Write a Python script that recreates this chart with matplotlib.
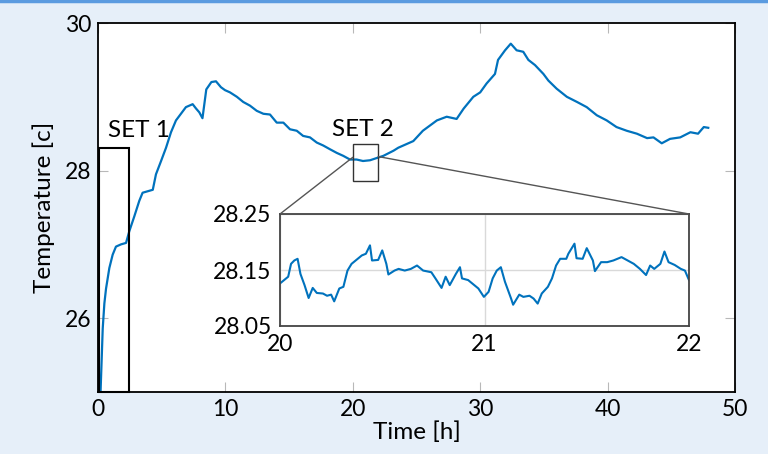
import numpy as np
import matplotlib
matplotlib.use("Agg")
from matplotlib import pyplot as plt
from matplotlib.patches import Rectangle, ConnectionPatch
from matplotlib.lines import Line2D

# main temperature trace
time_h = [0.1, 0.2, 0.28, 0.37, 0.5, 0.63, 0.89, 1.15, 1.41, 1.8, 2.2, 2.46, 2.85,
          3.24, 3.5, 3.9, 4.3, 4.55, 4.95, 5.34, 5.73, 6.12, 6.51, 6.9, 7.43, 7.7,
          7.95, 8.2, 8.5, 8.9, 9.26, 9.65, 9.97, 10.36, 10.9, 11.4, 11.93, 12.46,
          12.98, 13.5, 14.03, 14.55, 15.07, 15.6, 16.1, 16.64, 17.17, 17.68, 18.2,
          18.74, 19.25, 19.78, 20.3, 20.8, 21.35, 21.87, 22.4, 23.2, 23.57, 24.75,
          25.5, 26.6, 27.37, 28.15, 28.7, 29.46, 30.0, 30.5, 31.16, 31.4, 31.95,
          32.4, 32.86, 33.38, 33.78, 34.3, 34.96, 35.35, 36.0, 36.8, 37.6, 38.36,
          39.15, 39.93, 40.7, 41.5, 42.3, 43.1, 43.6, 44.25, 44.9, 45.7, 46.5,
          47.1, 47.55, 47.9]
temp_c = [24.97, 25.0, 25.4, 25.86, 26.2, 26.4, 26.68, 26.86, 26.97, 27.0, 27.02,
          27.18, 27.38, 27.59, 27.7, 27.72, 27.74, 27.95, 28.13, 28.31, 28.52,
          28.68, 28.77, 28.86, 28.9, 28.84, 28.79, 28.71, 29.1, 29.2, 29.21, 29.13,
          29.09, 29.06, 29.0, 28.93, 28.88, 28.81, 28.77, 28.76, 28.65, 28.65,
          28.56, 28.54, 28.47, 28.45, 28.38, 28.34, 28.29, 28.24, 28.2, 28.15,
          28.15, 28.13, 28.14, 28.17, 28.2, 28.27, 28.31, 28.4, 28.54, 28.68,
          28.73, 28.7, 28.84, 29.0, 29.06, 29.18, 29.31, 29.5, 29.63, 29.72, 29.63,
          29.61, 29.5, 29.43, 29.31, 29.22, 29.11, 29.0, 28.93, 28.86, 28.75,
          28.68, 28.59, 28.54, 28.5, 28.44, 28.45, 28.37, 28.43, 28.45, 28.52,
          28.5, 28.59, 28.58]

# zoomed window 20-22 h
zoom_t = [20.0, 20.02, 20.04, 20.054, 20.07, 20.086, 20.1, 20.12, 20.14, 20.16,
          20.18, 20.21, 20.23, 20.25, 20.265, 20.29, 20.31, 20.33, 20.35, 20.38,
          20.4, 20.42, 20.44, 20.45, 20.48, 20.5, 20.52, 20.53, 20.56, 20.58,
          20.61, 20.64, 20.67, 20.7, 20.74, 20.76, 20.79, 20.81, 20.83, 20.86,
          20.88, 20.89, 20.92, 20.95, 20.97, 20.997, 21.02, 21.04, 21.06, 21.08,
          21.1, 21.13, 21.14, 21.17, 21.19, 21.22, 21.24, 21.26, 21.28, 21.31,
          21.33, 21.35, 21.37, 21.4, 21.41, 21.44, 21.45, 21.48, 21.5, 21.53,
          21.54, 21.57, 21.6, 21.63, 21.67, 21.7, 21.73, 21.76, 21.79, 21.81,
          21.83, 21.86, 21.88, 21.9, 21.93, 21.96, 21.98, 22.0]
zoom_temp = [28.126, 28.132, 28.138, 28.161, 28.167, 28.17, 28.143, 28.123, 28.1,
             28.118, 28.109, 28.108, 28.104, 28.106, 28.094, 28.117, 28.12, 28.149,
             28.161, 28.17, 28.176, 28.179, 28.194, 28.167, 28.168, 28.185, 28.161,
             28.142, 28.149, 28.152, 28.149, 28.152, 28.158, 28.149, 28.146, 28.135,
             28.118, 28.138, 28.123, 28.143, 28.155, 28.135, 28.132, 28.123, 28.117,
             28.102, 28.111, 28.135, 28.149, 28.155, 28.129, 28.099, 28.088, 28.106,
             28.102, 28.104, 28.099, 28.09, 28.108, 28.12, 28.135, 28.158, 28.17,
             28.17, 28.179, 28.197, 28.171, 28.17, 28.189, 28.167, 28.148, 28.164,
             28.164, 28.167, 28.173, 28.167, 28.161, 28.152, 28.141, 28.158, 28.152,
             28.161, 28.183, 28.164, 28.159, 28.152, 28.149, 28.132]

zoom_yticks = [28.05, 28.15, 28.25]

line_col = "#0072bd"
bg = "#e6eff9"

plt.rcParams["font.family"] = ["Lato", "DejaVu Sans"]

fig = plt.figure(figsize=(7.68, 4.54), dpi=100, facecolor=bg)
fig.add_artist(Line2D([0, 1], [0.997, 0.997], transform=fig.transFigure,
                      color="#5b9be0", lw=2.5))

ax = fig.add_axes([98 / 768, 62 / 454, 637 / 768, 369 / 454])
ax.plot(time_h, temp_c, color=line_col, lw=1.6)
ax.set_xlim(0, 50)
ax.set_ylim(25, 30)
ax.set_xticks([0, 10, 20, 30, 40, 50])
ax.set_yticks([26, 28, 30])
ax.tick_params(direction="in", length=7, color="#b8b8b8", top=True, right=True,
               labelsize=16.5, pad=5)
for s in ax.spines.values():
    s.set_linewidth(1.3)
ax.set_xlabel("Time [h]", fontsize=17.5, labelpad=1)
ax.set_ylabel("Temperature [c]", fontsize=17.5, labelpad=7)

# marked regions
ax.add_patch(Rectangle((0.05, 25), 2.4, 3.3, fill=False, ec="black", lw=1.5, zorder=5,
                       clip_on=False))
ax.add_patch(Rectangle((20, 27.86), 2, 0.505, fill=False, ec="#333333", lw=1.0, zorder=5))
ax.text(0.75, 28.45, "SET 1", fontsize=17.5, ha="left", va="baseline")
ax.text(18.4, 28.47, "SET 2", fontsize=17.5, ha="left", va="baseline")

# inset
axin = fig.add_axes([280 / 768, 128 / 454, 409 / 768, 112 / 454])
axin.plot(zoom_t, zoom_temp, color=line_col, lw=1.5)
axin.set_xlim(20, 22)
axin.set_ylim(28.05, 28.25)
axin.set_xticks([20, 21, 22])
axin.set_yticks(zoom_yticks)
axin.set_yticklabels([f"{v:.2f}" for v in zoom_yticks])
axin.grid(True, color="#d9d9d9", lw=1)
axin.set_axisbelow(True)
axin.tick_params(length=0, labelsize=16.5, pad=6)
for s in axin.spines.values():
    s.set_linewidth(1.3)
    s.set_color("#444444")

# connector lines from the SET 2 box to the inset corners
for xa, ya, xb in [(20, 28.18, 0), (22, 28.19, 1)]:
    con = ConnectionPatch(xyA=(xa, ya), coordsA="data", axesA=ax,
                          xyB=(xb, 1), coordsB="axes fraction", axesB=axin,
                          color="#555555", lw=1.0)
    fig.add_artist(con)

fig.savefig("out.png", dpi=100, facecolor=bg)
